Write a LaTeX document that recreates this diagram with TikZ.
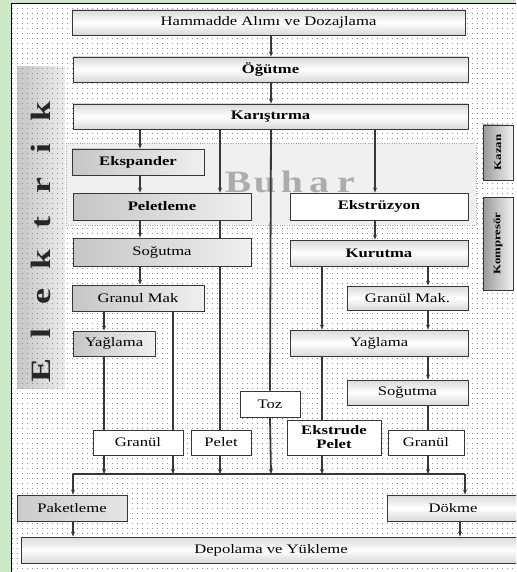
\documentclass[tikz,border=0pt]{standalone}
\usepackage{fontspec}
\setmainfont{Liberation Serif}[FakeStretch=1.28]
\usetikzlibrary{arrows.meta,positioning,calc}
\definecolor{bggreen}{RGB}{204,232,196}
\definecolor{linegray}{RGB}{55,55,55}

\begin{document}
\begin{tikzpicture}[x=1pt,y=-1pt,
    base/.style={draw=linegray, line width=0.9pt, inner sep=0pt, align=center, font=\fontsize{13}{14}\selectfont},
    bf/.style={font=\fontsize{13}{14}\selectfont\bfseries},
    lightbox/.style={base, top color=gray!30, bottom color=gray!30, middle color=white},
    graybox/.style={base, left color=gray!45, right color=gray!12},
    whitebox/.style={base, fill=white},
    sidebox/.style={base, rotate=90, left color=gray!80, right color=gray!10, font=\fontsize{10}{11}\selectfont\bfseries},
    arr/.style={-{Stealth[length=5pt,width=4pt]}, draw=linegray, line width=1.1pt},
    lin/.style={draw=linegray, line width=1.1pt}
]
\clip (0,0) rectangle (516,572);
\fill[bggreen] (0,0) rectangle (516,572);
\fill[white] (11,4) rectangle (516,572);
\draw[black, line width=1pt] (11,572) -- (11,4) -- (516,4);

\node[left color=gray!45, right color=gray!15, minimum width=48, minimum height=321, inner sep=0pt] (elekbg) at (41,227.5) {};
\foreach \r in {8,13,...,572}
  \draw[black!45, line width=0.8pt, dash pattern=on 0.8pt off 4.2pt] (12,\r) -- (516,\r);
\node[rotate=90, font=\fontsize{28}{28}\selectfont\bfseries, text=black!85] (elek) at (41,241)
  {\makebox[37pt]{E}\makebox[37pt]{l}\makebox[37pt]{e}\makebox[37pt]{k}\makebox[37pt]{t}\makebox[37pt]{r}\makebox[37pt]{i}\makebox[37pt]{k}};

\node[draw=gray!70, dotted, fill=gray!12, minimum width=410, minimum height=82, inner sep=0pt] (buharbg) at (271,184) {};
\node[font=\fontsize{31}{31}\selectfont\bfseries, text=gray!65, anchor=base] (buhar) at (292,192)
  {\makebox[27pt]{B}\makebox[27pt]{u}\makebox[27pt]{h}\makebox[27pt]{a}\makebox[27pt]{r}};

\node[lightbox, minimum width=393, minimum height=25] (ham) at (268.5,22.5) {Hammadde Alımı ve Dozajlama};
\node[lightbox, bf, minimum width=395, minimum height=25] (ogu) at (270.5,69.5) {Öğütme};
\node[lightbox, bf, minimum width=395, minimum height=25] (kar) at (270.5,116.5) {Karıştırma};
\node[graybox, bf, minimum width=132, minimum height=26] (eksp) at (138,162) {Ekspander};
\node[graybox, bf, minimum width=178, minimum height=27] (pel) at (162,206.5) {Peletleme};
\node[whitebox, bf, minimum width=178, minimum height=27] (ekstr) at (379,206.5) {Ekstrüzyon};
\node[graybox, minimum width=178, minimum height=28] (sogL) at (162,252) {Soğutma};
\node[lightbox, bf, minimum width=178, minimum height=26] (kur) at (379,253) {Kurutma};
\node[graybox, minimum width=132, minimum height=26] (gmL) at (138,298) {Granul Mak};
\node[graybox, minimum width=82, minimum height=25] (yagL) at (114,343.5) {Yağlama};
\node[lightbox, minimum width=121, minimum height=24] (gmR) at (407.5,298) {Granül Mak.};
\node[lightbox, minimum width=178, minimum height=26] (yagR) at (379,343) {Yağlama};
\node[lightbox, minimum width=121, minimum height=25] (sogR) at (407.5,392.5) {Soğutma};
\node[whitebox, minimum width=60, minimum height=26] (toz) at (270,404) {Toz};
\node[whitebox, bf, minimum width=94, minimum height=35] (ekpel) at (334,437.5) {Ekstrude\\Pelet};
\node[whitebox, minimum width=90, minimum height=25] (granL) at (138,442.5) {Granül};
\node[whitebox, minimum width=60, minimum height=25] (pelet) at (221,442.5) {Pelet};
\node[whitebox, minimum width=76, minimum height=25] (granR) at (426,442.5) {Granül};
\node[graybox, left color=gray!40, right color=gray!20, minimum width=110, minimum height=26] (pak) at (72,508) {Paketleme};
\node[lightbox, minimum width=132, minimum height=26] (dok) at (453,508) {Dökme};
\node[lightbox, minimum width=500, minimum height=26] (dep) at (271,550) {Depolama ve Yükleme};
\node[sidebox, minimum width=55, minimum height=30] (kazan) at (498,152.5) {Kazan};
\node[sidebox, minimum width=93, minimum height=30] (komp) at (498,243.5) {Kompresör};

\coordinate (cA) at (73,0);
\coordinate (cB) at (104,0);
\coordinate (cC) at (140,0);
\coordinate (cD) at (173,0);
\coordinate (cE) at (220,0);
\coordinate (cF) at (271,0);
\coordinate (cG) at (322,0);
\coordinate (cH) at (375,0);
\coordinate (cI) at (428,0);
\coordinate (cK) at (460,0);
\coordinate (busL) at (73,474);
\coordinate (busR) at (465,474);

\draw[arr] (ham.south -| cF) -- (ogu.north -| cF);
\draw[arr] (ogu.south -| cF) -- (kar.north -| cF);
\draw[arr] (kar.south -| cC) -- (eksp.north -| cC);
\draw[arr] (eksp.south -| cC) -- (pel.north -| cC);
\draw[arr] (kar.south -| cE) -- (pel.north -| cE);
\draw[lin, line width=1.8pt] (kar.south -| cF) -- (toz.north);
\draw[arr] (kar.south -| cH) -- (ekstr.north -| cH);
\draw[arr] (pel.south -| cC) -- (sogL.north -| cC);
\draw[lin] (pel.south -| cE) -- (sogL.north -| cE);
\draw[arr] (sogL.south -| cC) -- (gmL.north -| cC);
\draw[lin] (sogL.south -| cE) -- (pelet.north -| cE);
\draw[arr] (gmL.south -| cB) -- (yagL.north -| cB);
\draw[lin] (yagL.south -| cB) -- (granL.north -| cB);
\draw[lin] (gmL.south -| cD) -- (granL.north -| cD);
\draw[arr] (ekstr.south -| cH) -- (kur.north -| cH);
\draw[arr] (kur.south -| cG) -- (yagR.north -| cG);
\draw[arr] (kur.south -| cI) -- (gmR.north -| cI);
\draw[arr] (gmR.south -| cI) -- (yagR.north -| cI);
\draw[arr] (yagR.south -| cI) -- (sogR.north -| cI);
\draw[lin] (yagR.south -| cG) -- (ekpel.north -| cG);
\draw[lin] (sogR.south -| cI) -- (granR.north -| cI);

\draw[lin] (busL) -- (busR);
\draw[arr] (granL.south -| cB) -- (busL -| cB);
\draw[arr] (granL.south -| cD) -- (busL -| cD);
\draw[arr] (pelet.south -| cE) -- (busL -| cE);
\draw[arr, line width=1.8pt] (toz.south) -- (busL -| cF);
\draw[arr] (ekpel.south -| cG) -- (busL -| cG);
\draw[arr] (granR.south -| cI) -- (busL -| cI);
\draw[arr] (busL) -- (pak.north -| busL);
\draw[arr] (busR) -- (dok.north -| busR);
\draw[arr] (pak.south -| cA) -- (dep.north -| cA);
\draw[arr] (dok.south -| cK) -- (dep.north -| cK);
\end{tikzpicture}
\end{document}
